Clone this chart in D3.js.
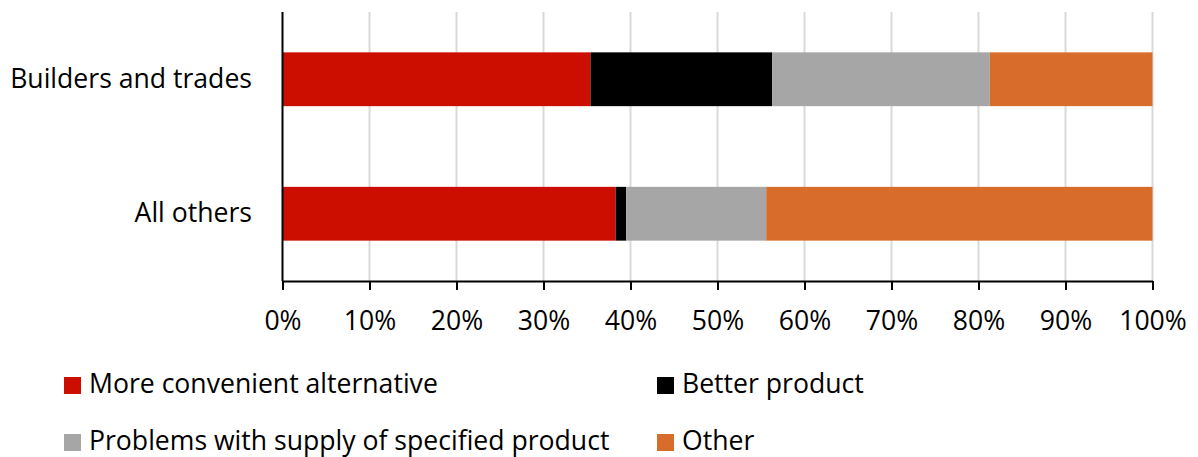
<!DOCTYPE html>
<html>
<head>
<meta charset="utf-8">
<script src="https://cdn.jsdelivr.net/npm/d3@7"></script>
<style>
  html, body { margin: 0; padding: 0; background: #fff; }
  svg { display: block; }
  text { font-family: "Open Sans", Lato, sans-serif; fill: #000; }
</style>
</head>
<body>
<svg id="chart" width="1198" height="457"></svg>
<script>
// Reasons for substitution, share of responses by respondent group
const categories = ["Builders and trades", "All others"];
const seriesNames = ["More convenient alternative", "Better product", "Problems with supply of specified product", "Other"];
const convenient = [35.4, 38.3];
const better = [20.9, 1.2];
const supply = [25.0, 16.1];
const other = [18.7, 44.4];
const colors = ["#CC0E00", "#000000", "#A6A6A6", "#D86D2B"];
const tickValues = [0, 10, 20, 30, 40, 50, 60, 70, 80, 90, 100];

const FONT = "26.6px";
const svg = d3.select("#chart");
const plotTop = 12, plotBottom = 281;

const x = d3.scaleLinear().domain([0, 100]).range([282.5, 1152.5]);
const y = d3.scaleBand().domain(categories).range([plotTop, plotBottom]).paddingInner(0.6).paddingOuter(0.3);

// gridlines
svg.append("g")
  .selectAll("line")
  .data(tickValues.slice(1))
  .join("line")
  .attr("x1", d => x(d)).attr("x2", d => x(d))
  .attr("y1", plotTop).attr("y2", plotBottom)
  .attr("stroke", "#D9D9D9").attr("stroke-width", 2);

// stacked bars
const rows = categories.map((c, i) => ({
  cat: c,
  [seriesNames[0]]: convenient[i],
  [seriesNames[1]]: better[i],
  [seriesNames[2]]: supply[i],
  [seriesNames[3]]: other[i]
}));
const stacked = d3.stack().keys(seriesNames)(rows);

svg.append("g")
  .selectAll("g")
  .data(stacked)
  .join("g")
  .attr("fill", (d, i) => colors[i])
  .selectAll("rect")
  .data(d => d)
  .join("rect")
  .attr("x", d => x(d[0]))
  .attr("width", d => x(d[1]) - x(d[0]))
  .attr("y", d => y(d.data.cat))
  .attr("height", y.bandwidth());

// x axis
const xAxis = svg.append("g")
  .attr("transform", `translate(0,${plotBottom})`)
  .call(d3.axisBottom(x).tickValues(tickValues).tickFormat(d => d + "%").tickSize(9).tickSizeOuter(0));
xAxis.select(".domain").attr("stroke", "#000").attr("stroke-width", 2);
xAxis.selectAll(".tick line").attr("stroke", "#000").attr("stroke-width", 2);
xAxis.selectAll(".tick text")
  .attr("y", 49).attr("dy", null)
  .style("font-size", FONT)
  .style("font-family", "'Open Sans', Lato, sans-serif")
  .attr("fill", "#000");

// y axis line
svg.append("line")
  .attr("x1", x(0)).attr("x2", x(0))
  .attr("y1", plotTop).attr("y2", plotBottom)
  .attr("stroke", "#000").attr("stroke-width", 2);

// category labels
svg.append("g")
  .selectAll("text")
  .data(categories)
  .join("text")
  .attr("x", 252)
  .attr("y", d => y(d) + y.bandwidth() / 2 + 8.5)
  .attr("text-anchor", "end")
  .style("font-size", FONT)
  .text(d => d);

// legend
const legendPos = [[64, 377], [657, 377], [64, 434], [657, 434]];
const legend = svg.append("g")
  .selectAll("g")
  .data(seriesNames)
  .join("g")
  .attr("transform", (d, i) => `translate(${legendPos[i][0]},${legendPos[i][1]})`);
legend.append("rect")
  .attr("width", 17).attr("height", 17)
  .attr("fill", (d, i) => colors[i]);
legend.append("text")
  .attr("x", 25).attr("y", 16)
  .style("font-size", FONT)
  .text(d => d);
</script>
</body>
</html>
